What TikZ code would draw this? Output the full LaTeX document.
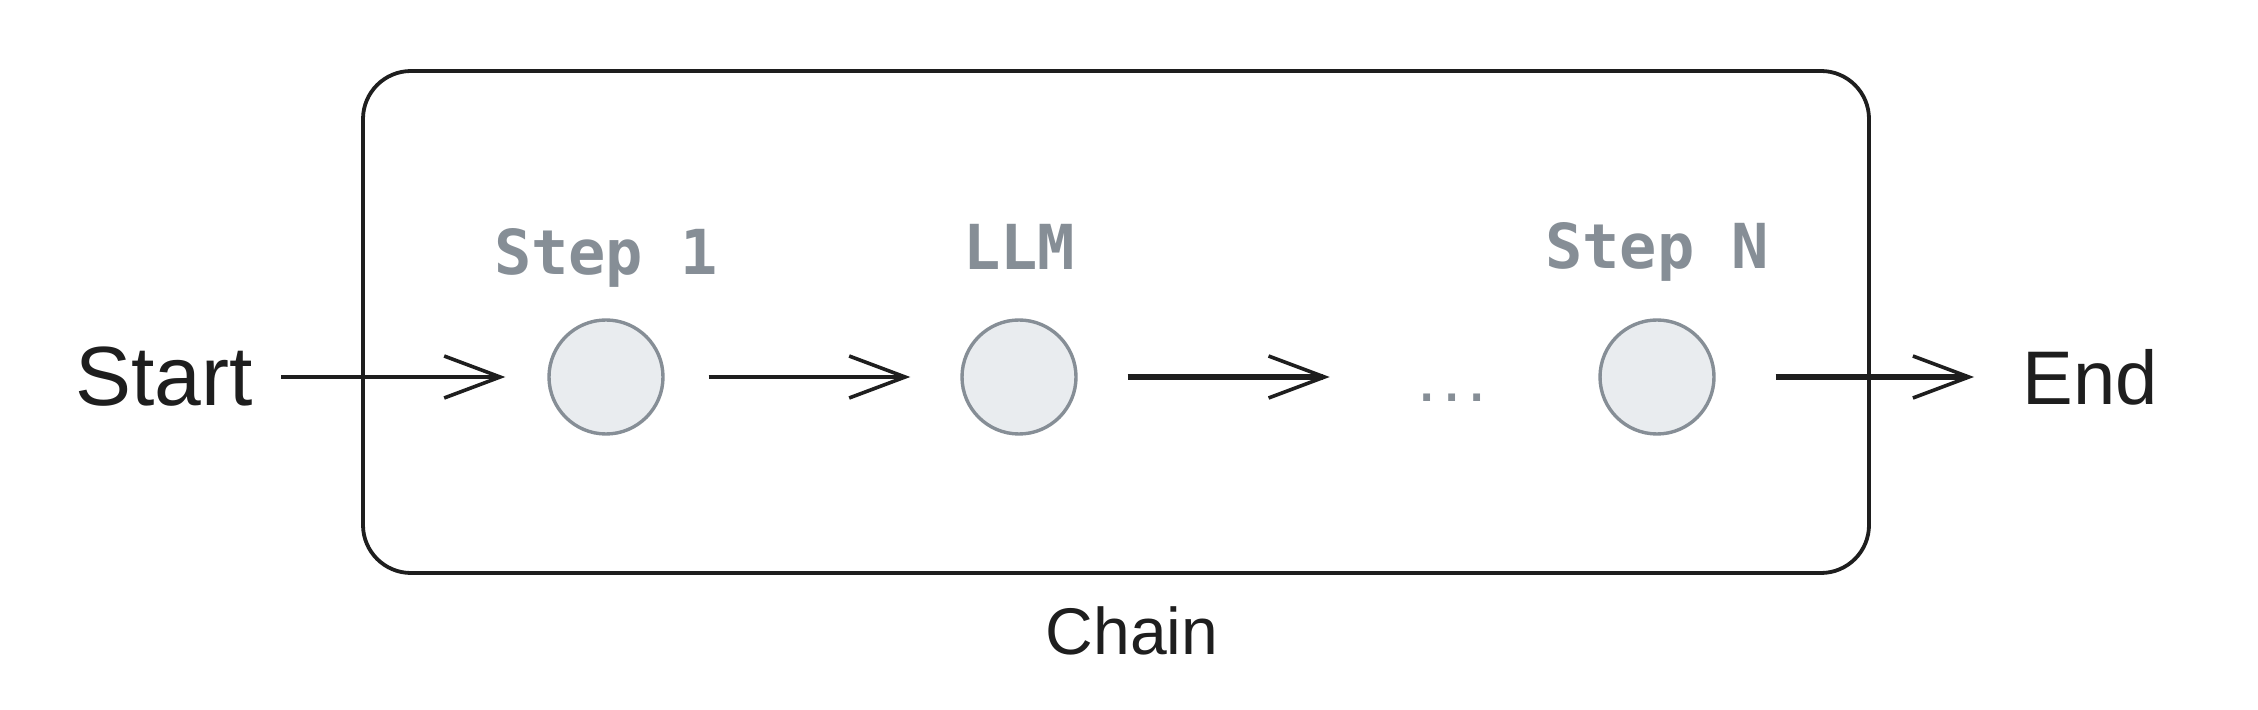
\documentclass[tikz,border=0pt]{standalone}
\usepackage{fontspec}
\setmainfont{Liberation Sans}
\newfontfamily\stepmono{DejaVu Sans Mono}
\usetikzlibrary{arrows.meta}
\definecolor{stepgray}{HTML}{868E96}
\definecolor{stepfill}{HTML}{E9ECEF}
\definecolor{ink}{HTML}{1E1E1E}
\begin{document}
\begin{tikzpicture}[x=0.5pt,y=-0.5pt,
  stepnode/.style={circle, draw=stepgray, fill=stepfill, line width=1.7pt, minimum size=57pt, inner sep=0pt},
  steplabel/.style={text=stepgray, font=\stepmono\bfseries\fontsize{31}{31}\selectfont, inner sep=0pt},
  handtext/.style={text=ink, font=\fontsize{38}{38}\selectfont, inner sep=0pt},
  chainbox/.style={draw=ink, line width=1.9pt, rounded corners=24pt, minimum width=753pt, minimum height=251pt, inner sep=0pt},
  flow/.style={draw=ink, line width=1.8pt, -{Straight Barb[length=28pt,width=21pt,line width=1.8pt]}},
  flowthick/.style={flow, line width=2.6pt}
]
\useasboundingbox (0,0) rectangle (2258,710);
\node[chainbox] (box) at (1116,322) {};
\node[handtext, font=\fontsize{33}{33}\selectfont] (chainlbl) at (1132,631) {Chain};

\node[handtext, font=\fontsize{42}{42}\selectfont] (start) at (164,377) {Start};
\node[handtext] (end) at (2090,377) {End};

\node[stepnode] (s1) at (606,377) {};
\node[stepnode] (llm) at (1019,377) {};
\node[stepnode] (sn) at (1657,377) {};

\node[steplabel] (s1lbl) at (606,258) {Step 1};
\node[steplabel] (llmlbl) at (1019,247) {LLM};
\node[steplabel] (snlbl) at (1657,252) {Step N};

\node[text=stepgray, font=\stepmono\bfseries\fontsize{21}{21}\selectfont, inner sep=0pt, anchor=base] (dots) at (1452,402) {...};

\draw[flow, shorten <=14pt, shorten >=21pt] (start.east) -- (s1.west);
\draw[flow, shorten <=22pt, shorten >=25pt] (s1.east) -- (llm.west);
\draw[flowthick, shorten <=25pt, shorten >=42pt] (llm.east) -- (dots.west |- llm.west);
\draw[flowthick, shorten <=30pt, shorten >=24pt] (sn.east) -- (end.west);
\end{tikzpicture}
\end{document}
